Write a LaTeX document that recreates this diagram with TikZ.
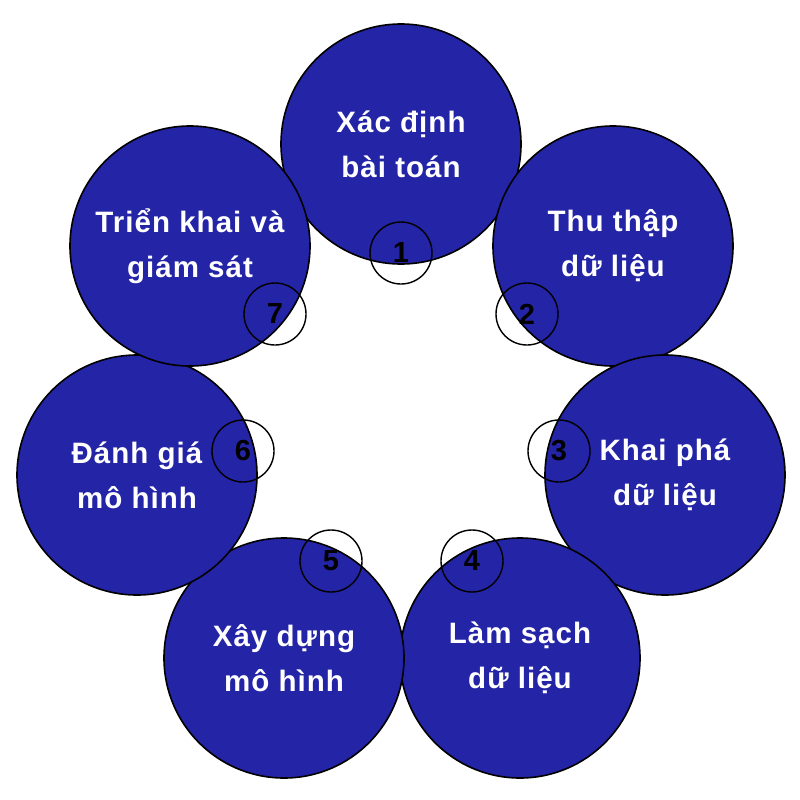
\documentclass[tikz,border=0pt]{standalone}
\usepackage{fontspec}
\setmainfont{Liberation Sans}
\newfontfamily\spacedfont[LetterSpace=3.5]{Liberation Sans}
\definecolor{stepblue}{RGB}{36,36,166}
\begin{document}
\begin{tikzpicture}[x=1pt,y=-1pt,
  big/.style={circle,draw=black,line width=1.6pt,fill=stepblue,minimum size=240pt,inner sep=0pt,
    text=white,font=\spacedfont\bfseries\fontsize{29.5}{45}\selectfont,align=center},
  num/.style={circle,draw=black,line width=1.4pt,minimum size=62pt,inner sep=0pt,
    font=\bfseries\fontsize{29}{30}\selectfont}]
\useasboundingbox (0,0) rectangle (800,800);
\node[big] (c1) at (401,144) {Xác định\\bài toán};
\node[big] (c2) at (613,246) {Thu thập\\dữ liệu};
\node[big] (c3) at (665,475) {Khai phá\\dữ liệu};
\node[big] (c4) at (520,658) {Làm sạch\\dữ liệu};
\node[big] (c5) at (284,658) {Xây dựng\\mô hình};
\node[big] (c6) at (137,475) {Đánh giá\\mô hình};
\node[big] (c7) at (190,246) {Triển khai và\\giám sát};
\node[num] (n1) at (401,253) {1};
\node[num] (n2) at (527,314) {2};
\node[num] (n3) at (559,451) {3};
\node[num] (n4) at (472,561) {4};
\node[num] (n5) at (331,561) {5};
\node[num] (n6) at (243,451) {6};
\node[num] (n7) at (275,314) {7};
\end{tikzpicture}
\end{document}
